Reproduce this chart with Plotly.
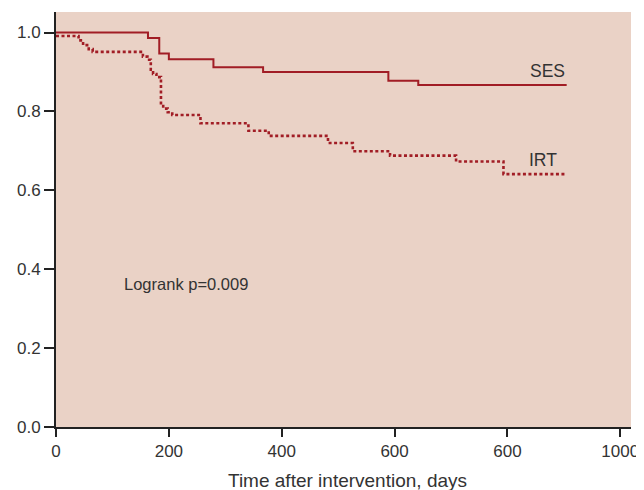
import plotly.graph_objects as go

# SES Kaplan-Meier steps
ses_days = [0, 163, 183, 200, 279, 367, 589, 642, 905]
ses_surv = [1.0, 0.986, 0.947, 0.932, 0.912, 0.900, 0.878, 0.867, 0.867]

# IRT Kaplan-Meier steps
irt_days = [0, 40, 48, 58, 65, 154, 162, 168, 172, 178, 186, 190, 198, 206,
            256, 341, 377, 482, 526, 592, 709, 793, 904]
irt_surv = [0.991, 0.980, 0.968, 0.958, 0.951, 0.939, 0.931, 0.906, 0.895, 0.887,
            0.817, 0.807, 0.798, 0.791, 0.770, 0.751, 0.738, 0.720, 0.699, 0.688,
            0.673, 0.641, 0.641]

x_tickvals = [0, 200, 400, 600, 800, 1000]
x_ticktext = ["0", "200", "400", "600", "600", "1000"]
y_tickvals = [0.0, 0.2, 0.4, 0.6, 0.8, 1.0]
x_title = "Time after intervention, days"

red = "#a11d25"
txt = "#333333"
font = "Liberation Sans"

fig = go.Figure()
fig.add_trace(go.Scatter(x=ses_days, y=ses_surv, mode="lines", line_shape="hv",
                         line=dict(color=red, width=2), name="SES", showlegend=False))
fig.add_trace(go.Scatter(x=irt_days, y=irt_surv, mode="lines", line_shape="hv",
                         line=dict(color=red, width=2.6, dash="3px,2.5px"), name="IRT",
                         showlegend=False))

fig.add_annotation(x=ses_days[-1], y=ses_surv[-1], text="SES", showarrow=False,
                   xanchor="right", yanchor="bottom", yshift=2,
                   font=dict(family=font, size=17.5, color=txt))
fig.add_annotation(x=irt_days[-1], y=irt_surv[-1], text="IRT", showarrow=False,
                   xanchor="right", yanchor="bottom", yshift=2, xshift=-7,
                   font=dict(family=font, size=17.5, color=txt))
fig.add_annotation(x=117.5, y=0.363, text="Logrank p=0.009", showarrow=False,
                   xanchor="left", yanchor="middle",
                   font=dict(family=font, size=16.5, color=txt))
fig.add_annotation(x=0.5, y=-0.129, xref="paper", yref="paper", text=x_title,
                   showarrow=False, xanchor="center", yanchor="middle", xshift=4,
                   font=dict(family=font, size=19, color=txt))

fig.update_layout(
    width=636, height=482,
    margin=dict(l=48, r=13, t=4, b=63),
    paper_bgcolor="white",
    plot_bgcolor="#ead2c6",
    font=dict(family=font, size=17, color=txt),
)
fig.update_xaxes(range=[0, 1019], tickvals=x_tickvals, ticktext=x_ticktext,
                 showgrid=False, zeroline=False, showline=True, linecolor="#222",
                 linewidth=2, ticks="outside", ticklen=8, tickwidth=2, tickcolor="#222",
                 automargin=False,
                 tickfont=dict(family=font, size=17, color=txt))
fig.update_yaxes(range=[0, 1.052], tickvals=y_tickvals, tickformat=".1f",
                 showgrid=False, zeroline=False, showline=True, linecolor="#222",
                 linewidth=2, ticks="outside", ticklen=10, tickwidth=2, tickcolor="#222",
                 automargin=False,
                 tickfont=dict(family=font, size=17, color=txt))

fig.write_html("out.html")
